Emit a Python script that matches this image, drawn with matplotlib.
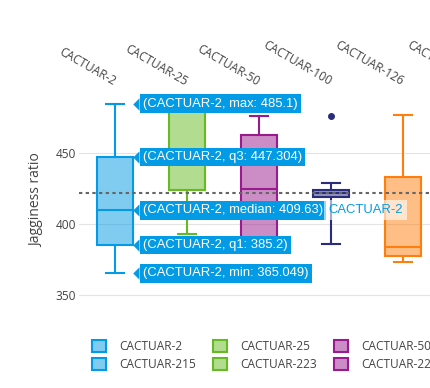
import matplotlib.pyplot as plt
from matplotlib.patches import Patch
from matplotlib.colors import to_rgba
from matplotlib.transforms import offset_copy

# categories along the top axis
categories = ["CACTUAR-2", "CACTUAR-25", "CACTUAR-50", "CACTUAR-100", "CACTUAR-126", "CACTUAR-151"]

# box statistics (first five boxes are visible)
box_names = ["CACTUAR-2", "CACTUAR-25", "CACTUAR-50", "CACTUAR-100", "CACTUAR-126"]
mins = [365.049, 393.0, 384.0, 386.0, 373.0]
q1s = [385.2, 424.3, 388.0, 419.3, 377.0]
medians = [409.63, 448.0, 424.7, 422.0, 383.5]
q3s = [447.304, 482.0, 463.0, 424.3, 433.5]
maxs = [485.1, 489.0, 476.0, 428.7, 477.0]
outliers = [[], [], [], [476.0], []]
edge_colors = ["#039be5", "#66bb22", "#9a1b8e", "#2a2c7c", "#ff7f0e"]

# reference line across the plot
ref_value = 421.9

# hover labels shown for the first box
hover_keys = ["max", "q3", "median", "q1", "min"]
hover_values = [485.1, 447.304, 409.63, 385.2, 365.049]
hover_text = ["485.1", "447.304", "409.63", "385.2", "365.049"]

# legend entries (two rows)
legend_row1 = ["CACTUAR-2", "CACTUAR-25", "CACTUAR-50"]
legend_row2 = ["CACTUAR-215", "CACTUAR-223", "CACTUAR-226"]

TEXT = "#444444"
FONT = "Open Sans"
HOVER_BG = "#039be5"

fig = plt.figure(figsize=(4.31, 3.88), dpi=100)
ax = fig.add_axes([79 / 431, 83 / 388, 432 / 431, 210 / 388])

stats = []
for i in range(len(box_names)):
    stats.append(dict(med=medians[i], q1=q1s[i], q3=q3s[i],
                      whislo=mins[i], whishi=maxs[i], fliers=outliers[i]))

parts = ax.bxp(stats, positions=range(len(box_names)), widths=0.5, capwidths=0.25,
               patch_artist=True, showfliers=True)
for i, c in enumerate(edge_colors):
    parts["boxes"][i].set_facecolor(to_rgba(c, 0.5))
    parts["boxes"][i].set_edgecolor(c)
    parts["boxes"][i].set_linewidth(1.5)
    parts["medians"][i].set_color(c)
    parts["medians"][i].set_linewidth(1.5)
    for k in (2 * i, 2 * i + 1):
        parts["whiskers"][k].set_color(c)
        parts["whiskers"][k].set_linewidth(1.5)
        parts["caps"][k].set_color(c)
        parts["caps"][k].set_linewidth(1.5)
    parts["fliers"][i].set_marker("o")
    parts["fliers"][i].set_markerfacecolor(c)
    parts["fliers"][i].set_markeredgecolor(c)
    parts["fliers"][i].set_markersize(4)

ax.axhline(ref_value, color="#666666", lw=1.5, ls=(0, (1.6, 1.6)), zorder=3)

ax.set_xlim(-0.5, len(categories) - 0.5)
ax.set_ylim(342.6, 491.2)
ax.set_yticks([350, 400, 450])
ax.grid(axis="y", color="#e3e3e3", lw=0.8)
ax.set_axisbelow(True)
for s in ax.spines.values():
    s.set_visible(False)

ax.xaxis.tick_top()
ax.set_xticks(range(len(categories)))
ax.set_xticklabels(categories, rotation=-30, ha="right", va="center",
                   rotation_mode="anchor", fontfamily=FONT, fontsize=8.6, color=TEXT)
ax.tick_params(axis="x", length=0, pad=9)
ax.tick_params(axis="y", length=0, pad=2, labelsize=8.6, labelcolor=TEXT)
for lab in ax.get_yticklabels():
    lab.set_fontfamily(FONT)

ax.set_ylabel("Jagginess ratio", fontfamily=FONT, fontsize=10, color=TEXT)
ax.yaxis.set_label_coords(-0.081, 0.5)

# hover labels
edge_x = 0.25
arrow_tr = offset_copy(ax.transData, fig=fig, x=6.5, y=0, units="dots")
labels = []
for key, v, t in zip(hover_keys, hover_values, hover_text):
    a = ax.annotate(f"({box_names[0]}, {key}: {t})", xy=(edge_x, v), xycoords="data",
                    xytext=(10, 0), textcoords="offset pixels", ha="left", va="center",
                    fontfamily="Liberation Sans", fontsize=9.4, color="white", zorder=6,
                    bbox=dict(boxstyle="square,pad=0.25", fc=HOVER_BG, ec="none"))
    labels.append(a)
    ax.plot(edge_x, v, marker=[(-1, 0), (0, 1), (0, -1)], ms=9, color=HOVER_BG,
            mec="none", transform=arrow_tr, zorder=6, clip_on=False)

fig.canvas.draw()
ext = labels[2].get_bbox_patch().get_window_extent()
ax.annotate(box_names[0], xy=(ext.x1 + 2, (ext.y0 + ext.y1) / 2), xycoords="figure pixels",
            ha="left", va="center", fontfamily="Liberation Sans", fontsize=9.4,
            color=HOVER_BG, zorder=6,
            bbox=dict(boxstyle="square,pad=0.3", fc=(1, 1, 1, 0.6), ec="none"))

# legend
handles = []
names = []
for i in range(len(legend_row1)):
    c = edge_colors[i]
    for n in (legend_row1[i], legend_row2[i]):
        handles.append(Patch(facecolor=to_rgba(c, 0.5), edgecolor=c, linewidth=1.5))
        names.append(n)
fig.legend(handles, names, loc="upper left", bbox_to_anchor=(92 / 431, 1 - 340 / 388),
           ncol=3, frameon=False, borderpad=0, borderaxespad=0,
           handlelength=1.17, handleheight=1.17, handletextpad=1.08,
           columnspacing=1.46, labelspacing=0.42,
           prop={"family": FONT, "size": 8.6}, labelcolor=TEXT)

fig.savefig("out.png", dpi=100)
